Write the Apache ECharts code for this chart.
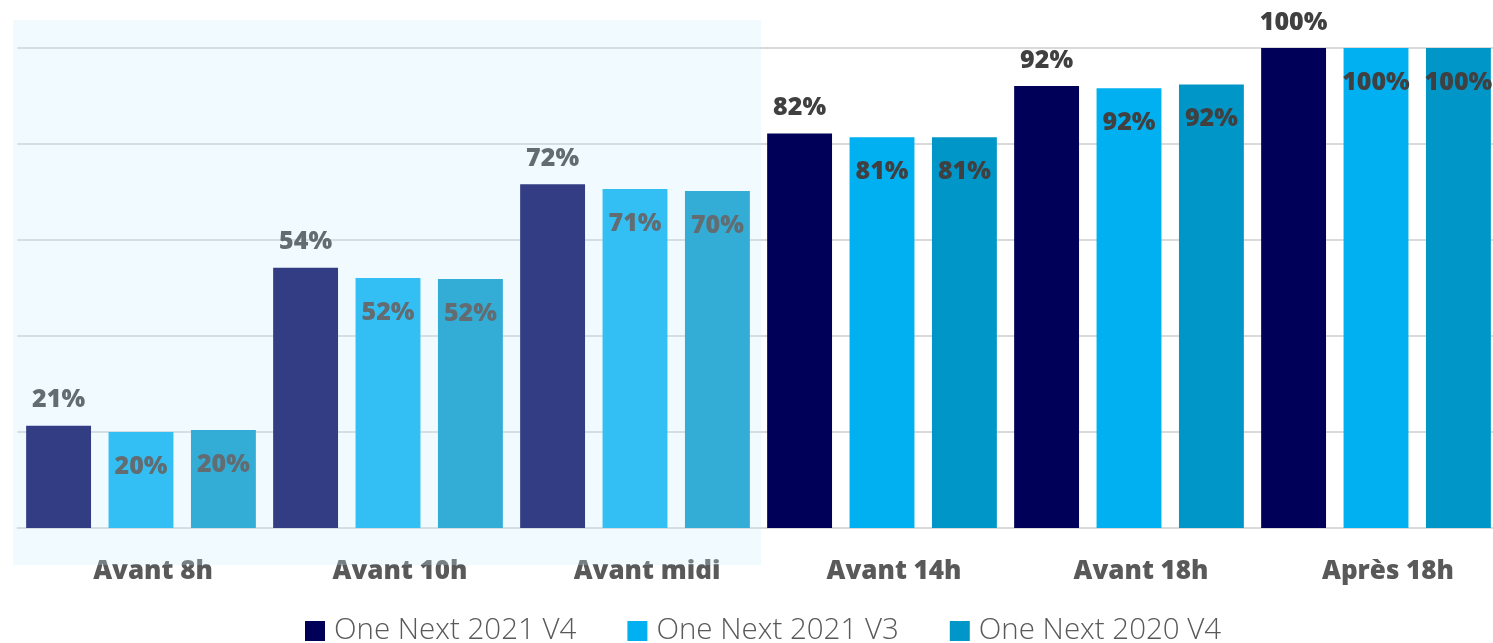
<!DOCTYPE html>
<html>
<head>
<meta charset="utf-8">
<script src="https://cdn.jsdelivr.net/npm/echarts@6/dist/echarts.min.js"></script>
<style>
  html, body { margin: 0; padding: 0; background: #fff; overflow: hidden; }
  #chart { width: 1500px; height: 643px; }
</style>
</head>
<body>
<div id="chart"></div>
<script>
const categories = ['Avant 8h', 'Avant 10h', 'Avant midi', 'Avant 14h', 'Avant 18h', 'Après 18h'];
const seriesNames = ['One Next 2021 V4', 'One Next 2021 V3', 'One Next 2020 V4'];
const s2021V4 = [21.3, 54.2, 71.6, 82.2, 92.1, 100];
const s2021V3 = [20.0, 52.1, 70.6, 81.4, 91.6, 100];
const s2020V4 = [20.4, 51.9, 70.2, 81.4, 92.4, 100];
const colors = ['#000058', '#00B0F0', '#0096C8'];

const FONT = '"Open Sans", "Noto Sans", sans-serif';
const labelFmt = p => Math.round(p.value) + '%';

function mkSeries(name, data, color, outside) {
  return {
    name: name,
    type: 'bar',
    data: data,
    itemStyle: { color: color },
    barGap: '27%',
    barCategoryGap: '7%',
    label: {
      show: true,
      position: outside ? 'top' : 'insideTop',
      distance: outside ? 13 : 22,
      formatter: labelFmt,
      color: '#404040',
      fontFamily: FONT,
      fontWeight: 900,
      fontSize: 25
    }
  };
}

const chart = echarts.init(document.getElementById('chart'), null, { renderer: 'canvas' });
chart.setOption({
  animation: false,
  backgroundColor: '#fff',
  grid: { left: 17.5, right: 0.5, top: 48, bottom: 115, containLabel: false },
  legend: {
    data: seriesNames,
    left: 305,
    top: 616,
    padding: 0,
    icon: 'rect',
    itemWidth: 20,
    itemHeight: 20,
    itemGap: 51,
    textStyle: { fontFamily: FONT, fontSize: 29.5, color: '#595959', fontWeight: 300, padding: [0, 0, 0, 4] }
  },
  xAxis: {
    type: 'category',
    data: categories,
    axisLine: { show: true, lineStyle: { color: '#D9D9D9', width: 2 } },
    axisTick: { show: false },
    axisLabel: {
      color: '#595959',
      fontFamily: FONT,
      fontWeight: 900,
      fontSize: 26,
      margin: 31,
      padding: [0, 0, 0, 24]
    }
  },
  yAxis: {
    type: 'value',
    min: 0,
    max: 100,
    interval: 20,
    axisLabel: { show: false },
    axisLine: { show: false },
    axisTick: { show: false },
    splitLine: { lineStyle: { color: '#D9D9D9', width: 2 } }
  },
  series: [
    mkSeries(seriesNames[0], s2021V4, colors[0], true),
    mkSeries(seriesNames[1], s2021V3, colors[1], false),
    mkSeries(seriesNames[2], s2020V4, colors[2], false)
  ],
  graphic: [{
    type: 'rect',
    left: 13,
    top: 20,
    z: 1000,
    silent: true,
    shape: { width: 748, height: 545 },
    style: { fill: 'rgba(197,235,255,0.26)' }
  }]
});
</script>
</body>
</html>
